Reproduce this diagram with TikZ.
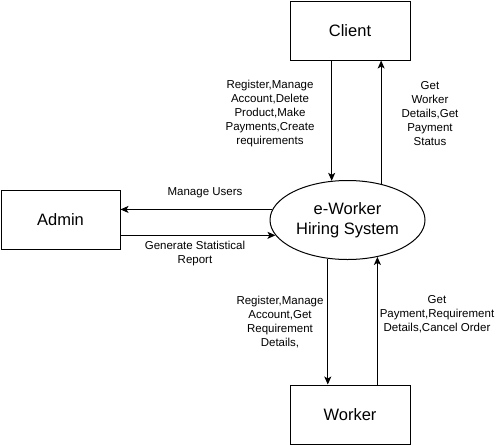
\documentclass[tikz,border=0pt]{standalone}
\usepackage{fontspec}
\setmainfont{Liberation Sans}
\usetikzlibrary{arrows.meta, shapes.geometric}

\begin{document}
\begin{tikzpicture}[
  x=1pt, y=-1pt,
  line width=1pt,
  box/.style={rectangle, draw=black, minimum width=120pt, minimum height=59pt,
              inner sep=0pt, font=\fontsize{16.5}{19}\selectfont},
  proc/.style={ellipse, draw=black, minimum width=155pt, minimum height=79pt,
               inner sep=0pt, align=center, font=\fontsize{16.5}{20}\selectfont},
  lbl/.style={align=center, inner sep=0pt, font=\fontsize{11.5}{14}\selectfont},
  arrow/.style={-{Stealth[length=8pt, width=7pt, inset=2pt]}, black},
]
  \useasboundingbox (0,0) rectangle (500,445);

  \node[box] (client) at (350,30.5) {Client};
  \node[box, minimum width=119pt] (admin) at (60.5,220) {Admin};
  \node[box] (worker) at (350,414.5) {Worker};
  \node[proc] (sys) at (347.5,220) {e-Worker\\Hiring System};

  \node[lbl] (reqclient) at (270,114) {Register,Manage\\Account,Delete\\Product,Make\\Payments,Create\\requirements};
  \node[lbl] (resclient) at (430,114) {Get\\Worker\\Details,Get\\Payment\\Status};
  \node[lbl] (users) at (205,193) {Manage Users};
  \node[lbl] (report) at (195,254) {Generate Statistical\\Report};
  \node[lbl] (reqworker) at (280,322) {Register,Manage\\Account,Get\\Requirement\\Details,};
  \node[lbl] (resworker) at (437,314) {Get\\Payment,Requirement\\Details,Cancel Order};

  \draw[arrow] (sys.112 |- client.south) -- (sys.112);
  \draw[arrow] (sys.47) -- (sys.47 |- client.south);
  \draw[arrow] (sys.172) -- (sys.172 -| admin.east);
  \draw[arrow] (sys.192 -| admin.east) -- (sys.192);
  \draw[arrow] (sys.243) -- (sys.243 |- worker.north);
  \draw[arrow] (sys.309 |- worker.north) -- (sys.309);
\end{tikzpicture}
\end{document}
